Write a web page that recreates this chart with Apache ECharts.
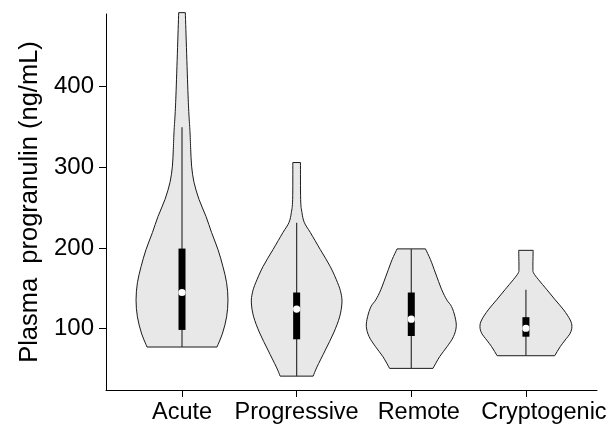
<!DOCTYPE html>
<html>
<head>
<meta charset="utf-8">
<script src="https://cdn.jsdelivr.net/npm/echarts@6/dist/echarts.min.js"></script>
<style>
html,body{margin:0;padding:0;background:#fff;}
#chart{width:613px;height:429px;}
</style>
</head>
<body>
<div id="chart"></div>
<script>
// ---- data ----
var categories = ['Acute', 'Progressive', 'Remote', 'Cryptogenic'];
var yTicks = [100, 200, 300, 400];

// violin outlines: levels (ng/mL) and relative half-widths (density)
var acuteLevels   = [491.9, 384.7, 343.7, 322.5, 301.4, 281.4, 260.3, 239.1, 219.2, 198.0, 176.8, 156.9, 135.7, 114.6, 94.6, 77.2];
var acuteDensity  = [0.072, 0.135, 0.174, 0.189, 0.209, 0.261, 0.370, 0.522, 0.643, 0.783, 0.891, 0.970, 1.000, 0.970, 0.883, 0.761];

var progLevels    = [306.0, 260.3, 244.1, 231.6, 219.2, 198.0, 176.8, 156.9, 144.4, 131.9, 114.6, 94.6, 73.4, 52.3, 41.1];
var progDensity   = [0.083, 0.087, 0.115, 0.167, 0.298, 0.515, 0.733, 0.891, 0.963, 0.985, 0.935, 0.804, 0.624, 0.441, 0.359];

var remoteLevels  = [198.9, 185.6, 169.0, 148.2, 135.7, 127.4, 114.9, 102.5, 90.0, 77.6, 65.1, 50.7];
var remoteDensity = [0.309, 0.417, 0.526, 0.663, 0.772, 0.876, 0.950, 0.978, 0.917, 0.778, 0.615, 0.472];

var cryptoLevels  = [197.1, 175.2, 169.0, 160.6, 148.2, 135.7, 123.3, 110.8, 102.5, 94.3, 85.9, 77.6, 66.4];
var cryptoDensity = [0.157, 0.152, 0.167, 0.276, 0.457, 0.637, 0.820, 0.963, 1.000, 0.963, 0.854, 0.746, 0.626];

// box statistics: [lower whisker, Q1, median, Q3, upper whisker]
var acuteBox  = [77.2, 98.4, 144.8, 199.3, 349.6];
var progBox   = [41.1, 86.8, 124.2, 144.8, 231.3];
var remoteBox = [50.7, 90.9, 111.7, 144.8, 198.9];
var cryptoBox = [66.4, 90.0, 100.5, 114.2, 148.2];

// ---- build ----
var violins = [
  {levels: acuteLevels, density: acuteDensity},
  {levels: progLevels, density: progDensity},
  {levels: remoteLevels, density: remoteDensity},
  {levels: cryptoLevels, density: cryptoDensity}
];
var boxes = [acuteBox, progBox, remoteBox, cryptoBox];
var MAX_HALF = 0.401; // x-axis units
// label nudges (left padding, px) to mimic original label placement
var labelPad = [0, 0, 15, 36];

function crPath(pts, moveFirst) {
  var s = '';
  if (moveFirst) s += 'M' + pts[0][0] + ' ' + pts[0][1];
  else s += 'L' + pts[0][0] + ' ' + pts[0][1];
  for (var i = 0; i < pts.length - 1; i++) {
    var p0 = pts[Math.max(0, i - 1)], p1 = pts[i], p2 = pts[i + 1], p3 = pts[Math.min(pts.length - 1, i + 2)];
    var c1x = p1[0] + (p2[0] - p0[0]) / 6, c1y = p1[1] + (p2[1] - p0[1]) / 6;
    var c2x = p2[0] - (p3[0] - p1[0]) / 6, c2y = p2[1] - (p3[1] - p1[1]) / 6;
    s += 'C' + c1x + ' ' + c1y + ' ' + c2x + ' ' + c2y + ' ' + p2[0] + ' ' + p2[1];
  }
  return s;
}

function renderViolin(params, api) {
  var i = params.dataIndex;
  var v = violins[i];
  var cx = i + 1;
  var right = [], left = [];
  for (var k = 0; k < v.levels.length; k++) {
    right.push(api.coord([cx + v.density[k] * MAX_HALF, v.levels[k]]));
  }
  for (var k2 = v.levels.length - 1; k2 >= 0; k2--) {
    left.push(api.coord([cx - v.density[k2] * MAX_HALF, v.levels[k2]]));
  }
  var d = crPath(right, true) + crPath(left, false) + 'Z';
  return {
    type: 'path',
    shape: {pathData: d},
    style: {fill: '#e8e8e8', stroke: '#1a1a1a', lineWidth: 1}
  };
}

function renderBox(params, api) {
  var i = params.dataIndex;
  var b = boxes[i];
  var cx = i + 1;
  var lo = api.coord([cx, b[0]]), q1 = api.coord([cx, b[1]]), md = api.coord([cx, b[2]]),
      q3 = api.coord([cx, b[3]]), hi = api.coord([cx, b[4]]);
  var w = 7;
  return {
    type: 'group',
    children: [
      {type: 'line', shape: {x1: lo[0], y1: lo[1], x2: hi[0], y2: hi[1]}, style: {stroke: '#333', lineWidth: 1.2}},
      {type: 'rect', shape: {x: q3[0] - w / 2, y: q3[1], width: w, height: q1[1] - q3[1]}, style: {fill: '#000'}},
      {type: 'circle', shape: {cx: md[0], cy: md[1], r: 3.6}, style: {fill: '#fff'}}
    ]
  };
}

var font = "'Liberation Sans', Arial, sans-serif";
var rich = {};
for (var r = 0; r < categories.length; r++) {
  rich['c' + r] = {padding: [0, 0, 0, labelPad[r]], fontSize: 23.5, fontFamily: font, color: '#000'};
}
var chart = echarts.init(document.getElementById('chart'), null, {renderer: 'canvas'});
chart.setOption({
  animation: false,
  backgroundColor: '#fff',
  grid: {left: 106, right: 16, top: 14, bottom: 39, containLabel: false},
  xAxis: {
    type: 'value', min: 0.337, max: 4.62,
    splitLine: {show: false},
    axisLine: {show: true, lineStyle: {color: '#000', width: 1}},
    axisTick: {show: true, length: 7, lineStyle: {color: '#000'}, customValues: [1, 2, 3, 4]},
    axisLabel: {
      customValues: [1, 2, 3, 4], margin: 11, color: '#000', fontSize: 23.5, fontFamily: font,
      hideOverlap: false,
      formatter: function (val) {
        var idx = Math.round(val) - 1;
        if (!categories[idx]) return '';
        return '{c' + idx + '|' + categories[idx] + '}';
      },
      rich: rich
    }
  },
  yAxis: {
    type: 'value', min: 23.9, max: 490.2,
    name: 'Plasma  progranulin (ng/mL)', nameLocation: 'middle', nameGap: 63,
    nameTextStyle: {color: '#000', fontSize: 25.5, fontFamily: font},
    splitLine: {show: false},
    axisLine: {show: true, lineStyle: {color: '#000', width: 1}},
    axisTick: {show: true, length: 7, lineStyle: {color: '#000'}, customValues: yTicks},
    axisLabel: {customValues: yTicks, margin: 12, color: '#000', fontSize: 24, fontFamily: font}
  },
  series: [
    {type: 'custom', renderItem: renderViolin, data: [[1, 0], [2, 0], [3, 0], [4, 0]], encode: {x: 0, y: 1}, clip: false, z: 2},
    {type: 'custom', renderItem: renderBox, data: [[1, 0], [2, 0], [3, 0], [4, 0]], encode: {x: 0, y: 1}, clip: false, z: 3}
  ]
});
</script>
</body>
</html>
